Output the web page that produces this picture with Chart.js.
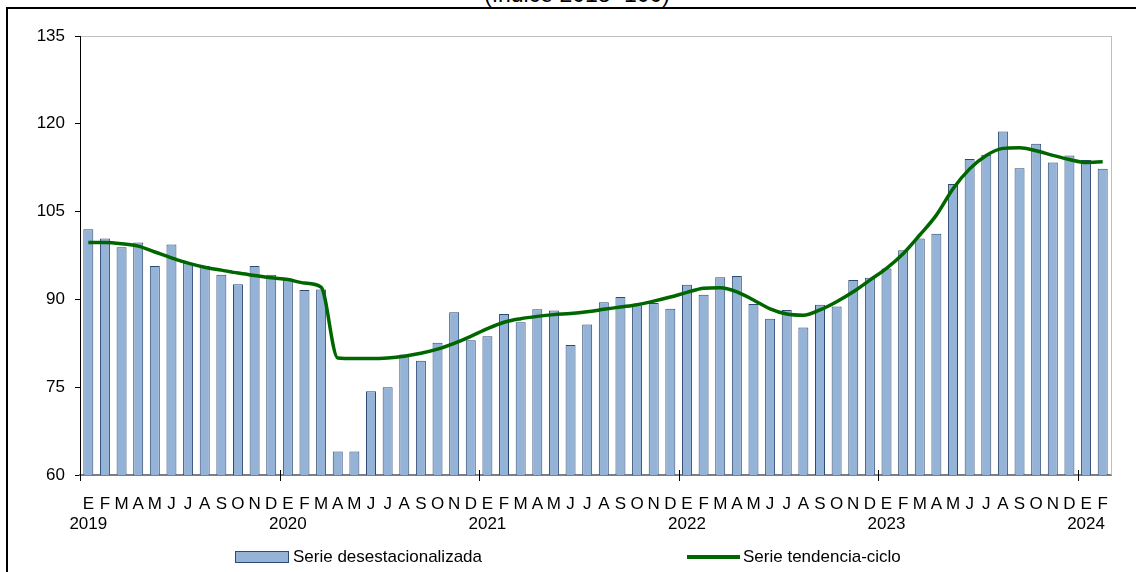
<!DOCTYPE html>
<html>
<head>
<meta charset="utf-8">
<script src="https://cdn.jsdelivr.net/npm/chart.js@4.4.1/dist/chart.umd.min.js"></script>
<style>
  html, body { margin:0; padding:0; width:1136px; height:572px; overflow:hidden; background:#fff; font-family:'Liberation Sans', Arial, sans-serif; }
  #frame { position:absolute; left:6px; top:7px; width:1200px; height:700px; border:2px solid #000; box-sizing:border-box; }
  #title { position:absolute; left:0; width:1154px; top:-17px; text-align:center; font-size:23px; line-height:23px; color:#000; }
  #wrap { position:absolute; left:0; top:0; width:1136px; height:572px; }
  .leg { position:absolute; font-size:17px; line-height:20px; color:#000; white-space:nowrap; }
  .sw-bar { position:absolute; width:54px; height:12px; background:#95B3D7; border:1px solid #2C4A74; box-sizing:border-box; }
  .sw-line { position:absolute; width:53px; height:3.5px; background:#006600; }
</style>
</head>
<body>
<div id="frame"></div>
<div id="title">(índice 2018=100)</div>
<div id="wrap"><canvas id="c" width="1136" height="572"></canvas></div>

<div class="sw-bar" style="left:235px;top:551px"></div>
<div class="leg" style="left:293px;top:547px">Serie desestacionalizada</div>
<div class="sw-line" style="left:687px;top:555px"></div>
<div class="leg" style="left:743px;top:547px">Serie tendencia-ciclo</div>

<script>
// ─── Datos ───────────────────────────────────────────
const MONTHS = ['E','F','M','A','M','J','J','A','S','O','N','D'];
const YEARS  = [2019, 2020, 2021, 2022, 2023, 2024];
const N_LAST = 2; // 2024: E, F

const desest = [
  102.0,100.4, 98.9, 99.7, 95.7, 99.4, 96.2, 95.7, 94.2, 92.6, 95.7, 94.2,
   93.4, 91.6, 91.7, 64.0, 64.0, 74.3, 75.0, 80.6, 79.5, 82.6, 87.8, 83.0,
   83.7, 87.5, 86.1, 88.3, 88.1, 82.2, 85.7, 89.5, 90.4, 89.0, 89.4, 88.4,
   92.5, 90.8, 93.8, 94.0, 89.2, 86.7, 88.2, 85.2, 89.1, 88.8, 93.3, 93.7,
   95.3, 98.4,100.4,101.2,109.7,114.0,114.7,118.7,112.4,116.6,113.4,114.6,
  113.8,112.3,
];

const tendencia = [
   99.7, 99.7, 99.5, 99.1, 98.1, 97.1, 96.2, 95.5, 95.0, 94.5, 94.1, 93.7,
   93.4, 92.8, 92.1, 80.0, 79.9, 79.9, 80.0, 80.3, 80.8, 81.5, 82.5, 83.7,
   85.0, 86.1, 86.7, 87.1, 87.4, 87.6, 87.9, 88.3, 88.7, 89.1, 89.7, 90.4,
   91.2, 91.9, 92.0, 91.3, 89.9, 88.4, 87.5, 87.3, 88.2, 89.6, 91.3, 93.3,
   95.3, 97.8,101.0,104.4,108.9,112.3,114.6,115.8,115.9,115.4,114.6,113.9,
  113.4,113.5,
];

const Y_TICKS = [60, 75, 90, 105, 120, 135];

// etiquetas: mes + año bajo cada enero
const labels = [];
YEARS.forEach((y, yi) => {
  const n = yi === YEARS.length - 1 ? N_LAST : 12;
  for (let m = 0; m < n; m++) labels.push(m === 0 ? [MONTHS[m], String(y)] : MONTHS[m]);
});

// ─── Marco: borde derecho + marcas de año ────────────
const framePlugin = {
  id: 'frame',
  afterDraw(chart) {
    const { ctx, chartArea: a } = chart;
    const cw = (a.right - a.left) / labels.length;
    ctx.save();
    ctx.strokeStyle = '#BFBFBF'; ctx.lineWidth = 1;
    ctx.beginPath(); ctx.moveTo(a.right + 0.5, a.top); ctx.lineTo(a.right + 0.5, a.bottom); ctx.stroke();
    ctx.strokeStyle = '#000'; ctx.lineWidth = 1;
    labels.forEach((l, i) => {
      if (!Array.isArray(l)) return;
      const x = Math.round(a.left + i * cw) + 0.5;
      ctx.beginPath(); ctx.moveTo(x, a.bottom - 5); ctx.lineTo(x, a.bottom + 6); ctx.stroke();
    });
    ctx.restore();
  },
};

const FONT = { family: "'Liberation Sans', Arial, sans-serif", size: 17 };

new Chart(document.getElementById('c'), {
  type: 'bar',
  data: {
    labels,
    datasets: [
      {
        type: 'line', label: 'Serie tendencia-ciclo', data: tendencia, order: 0,
        borderColor: '#006600', borderWidth: 3.5, pointRadius: 0,
        tension: 0.4, cubicInterpolationMode: 'monotone', fill: false,
      },
      {
        type: 'bar', label: 'Serie desestacionalizada', data: desest, order: 1,
        backgroundColor: '#95B3D7', borderColor: '#2C4A74', borderWidth: 1,
        barPercentage: 0.6, categoryPercentage: 1.0, borderSkipped: 'bottom',
      },
    ],
  },
  options: {
    responsive: false, animation: false,
    layout: { padding: { top: 36, right: 25, left: 0, bottom: 0 } },
    plugins: { legend: { display: false }, tooltip: { enabled: false }, title: { display: false } },
    scales: {
      x: {
        afterFit: s => { s.height = 97; },
        grid: { display: false },
        border: { color: '#7F7F7F', width: 2 },
        ticks: { color: '#000', font: FONT, autoSkip: false, maxRotation: 0, minRotation: 0, padding: 11 },
      },
      y: {
        min: 60, max: 135,
        afterFit: s => { s.width = 80; },
        afterBuildTicks: s => { s.ticks = Y_TICKS.map(v => ({ value: v })); },
        grid: {
          color: c => c.tick && c.tick.value === 135 ? '#BFBFBF' : 'rgba(0,0,0,0)',
          tickColor: '#000', tickLength: 5, drawTicks: true,
        },
        border: { color: '#000', width: 1 },
        ticks: { color: '#000', font: FONT, padding: 10 },
      },
    },
  },
  plugins: [framePlugin],
});
</script>
</body>
</html>
